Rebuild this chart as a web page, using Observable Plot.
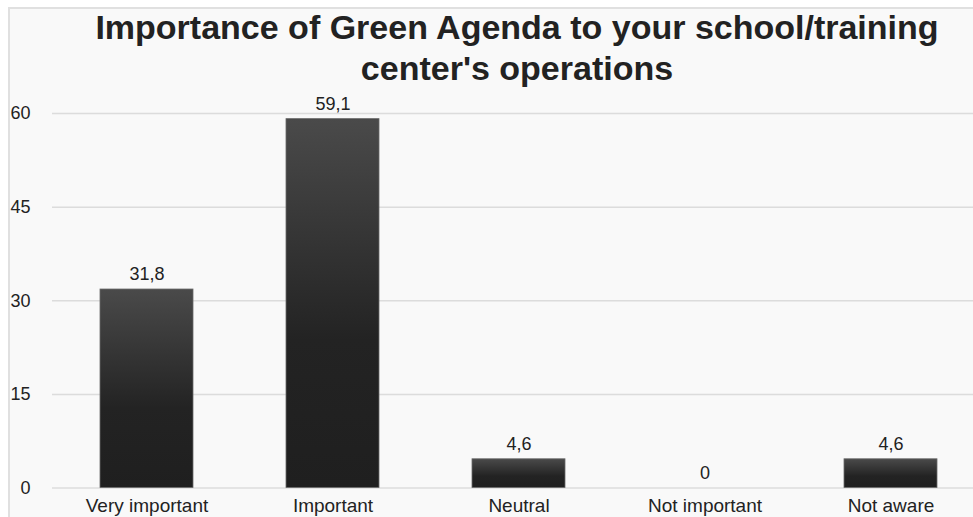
<!DOCTYPE html>
<html>
<head>
<meta charset="utf-8">
<script src="https://cdn.jsdelivr.net/npm/d3@7"></script>
<script src="https://cdn.jsdelivr.net/npm/@observablehq/plot@0.6"></script>
<style>
  html, body { margin: 0; padding: 0; background: #ffffff; overflow: hidden; width: 973px; height: 517px; }
  #frame { position: absolute; left: 8px; top: 7px; width: 1100px; height: 600px; background: #f9f9f9;
           border-left: 2px solid #e0e0e0; border-top: 2px solid #e0e0e0; }
  #title { position: absolute; left: 0; top: 7px; width: 1034px; text-align: center;
           font-family: "Liberation Sans", Arial, Helvetica, sans-serif; font-weight: 700;
           font-size: 34px; line-height: 41px; color: #222; }
  #chart { position: absolute; left: 0; top: 95px; width: 1000px; }
  #chart svg { display: block; max-width: none !important; }
</style>
</head>
<body>
<div id="frame"></div>
<div id="title">Importance of Green Agenda to your school/training<br>center's operations</div>
<div id="chart"></div>
<script>
const categories = ["Very important", "Important", "Neutral", "Not important", "Not aware"];
const values = [31.8, 59.1, 4.6, 0, 4.6];
const yTicks = [0, 15, 30, 45, 60];

const data = categories.map((c, i) => ({category: c, value: values[i]}));
const fmt = v => String(v).replace(".", ",");

const plot = Plot.plot({
  width: 985,
  height: 432,
  marginLeft: 52,
  marginRight: 1,
  marginTop: 18,
  marginBottom: 39.5,
  style: {background: "transparent", fontFamily: "'Liberation Sans', Arial, Helvetica, sans-serif", fontSize: "18px", color: "#222", maxWidth: "none"},
  x: {domain: categories, paddingInner: 0.5, paddingOuter: 0.25, label: null},
  y: {domain: [0, 60], label: null},
  marks: [
    Plot.gridY(yTicks, {stroke: "#dcdcdc", strokeOpacity: 1, strokeWidth: 1.5}),
    Plot.barY(data, {x: "category", y: "value", fill: "url(#barGrad)", stroke: "#6a6a6a", strokeWidth: 0.8}),
    Plot.text(data, {x: "category", y: "value", text: d => fmt(d.value), dy: -15, fontSize: 18, fill: "#222"}),
    Plot.axisY(yTicks, {tickSize: 0, tickPadding: 22, fontSize: 18, fill: "#222"}),
    Plot.axisX({tickSize: 0, tickPadding: 10, fontSize: 19, fill: "#222"})
  ]
});

const svg = d3.select(plot);
const defs = svg.insert("defs", ":first-child");
const g = defs.append("linearGradient").attr("id", "barGrad")
  .attr("x1", 0).attr("y1", 0).attr("x2", 0).attr("y2", 1);
g.append("stop").attr("offset", "0%").attr("stop-color", "#4a4a4a");
g.append("stop").attr("offset", "60%").attr("stop-color", "#232323");
g.append("stop").attr("offset", "100%").attr("stop-color", "#1f1f1f");

document.getElementById("chart").appendChild(plot);
</script>
</body>
</html>
